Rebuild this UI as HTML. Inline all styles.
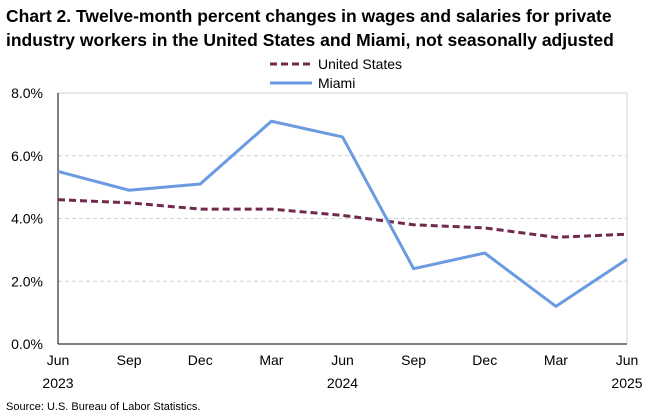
<!DOCTYPE html>
<html><head><meta charset="utf-8"><style>
body{margin:0;background:#fff;font-family:"Liberation Sans",Arial,sans-serif}
svg text{font-family:"Liberation Sans",Arial,sans-serif}
</style></head><body>
<svg id="chart" width="667" height="413" xmlns="http://www.w3.org/2000/svg">
<text x="6" y="22" font-size="17.5" font-weight="bold" fill="#000">Chart 2. Twelve-month percent changes in wages and salaries for private</text>
<text x="6" y="46" font-size="17.5" font-weight="bold" fill="#000">industry workers in the United States and Miami, not seasonally adjusted</text>
<g>
<line x1="270" y1="64" x2="312" y2="64" stroke="#722a4c" stroke-width="3" stroke-dasharray="7,4"/>
<text x="318" y="69" font-size="14">United States</text>
<line x1="270" y1="83" x2="312" y2="83" stroke="#6a9ae0" stroke-width="3"/>
<text x="318" y="88" font-size="14">Miami</text>
</g>
<g id="plot"></g>
<text x="6" y="410" font-size="11">Source: U.S. Bureau of Labor Statistics.</text>
</svg>
<script>
const categories=["Jun","Sep","Dec","Mar","Jun","Sep","Dec","Mar","Jun"];
const years=["2023","","","","2024","","","","2025"];
const usValues=[4.6,4.5,4.3,4.3,4.1,3.8,3.7,3.4,3.5];
const miamiValues=[5.5,4.9,5.1,7.1,6.6,2.4,2.9,1.2,2.7];
const yTicks=[0,2,4,6,8];
const NS="http://www.w3.org/2000/svg";
const g=document.getElementById('plot');
const L=58,R=627,T=93,B=344,yMax=8;
const x=i=>L+(R-L)*i/(categories.length-1);
const y=v=>B-(B-T)*v/yMax;
function mk(t,a){const e=document.createElementNS(NS,t);for(const k in a)e.setAttribute(k,a[k]);g.appendChild(e);return e;}
yTicks.forEach(v=>{
  if(v>0&&v<yMax){const l=mk('line',{x1:L,x2:R,y1:y(v),y2:y(v),stroke:'#d0d0d0','stroke-dasharray':'4,3'});
  
  }
  const t=mk('text',{x:L-15,y:y(v)+5,'font-size':14,'text-anchor':'end'});t.textContent=v.toFixed(1)+'%';
  
  
});
let e=mk('line',{x1:L,x2:R,y1:T,y2:T,stroke:'#d0d0d0'});


e=mk('line',{x1:R,x2:R,y1:T,y2:B,stroke:'#d0d0d0'});


e=mk('line',{x1:L,x2:L,y1:T,y2:B,stroke:'#000'});


e=mk('line',{x1:L,x2:R,y1:B,y2:B,stroke:'#000'});


categories.forEach((c,i)=>{
  const t=mk('text',{x:x(i),y:365,'font-size':14,'text-anchor':'middle'});t.textContent=c;
  
  
  if(years[i]){const yt=mk('text',{x:x(i),y:388,'font-size':14,'text-anchor':'middle'});yt.textContent=years[i];
  
  }
});
const pts=a=>a.map((v,i)=>x(i)+','+y(v)).join(' ');
e=mk('polyline',{points:pts(usValues),fill:'none',stroke:'#722a4c','stroke-width':3,'stroke-dasharray':'7,4'});


e=mk('polyline',{points:pts(miamiValues),fill:'none',stroke:'#6a9ae0','stroke-width':3,'stroke-linejoin':'round'});


</script>
</body></html>
